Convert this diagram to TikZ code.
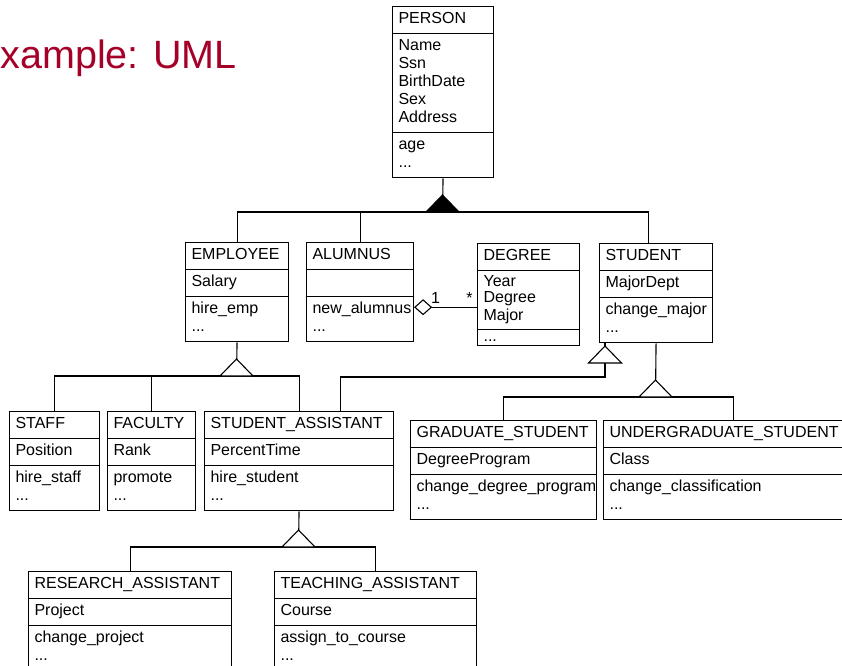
\documentclass[tikz,border=0pt]{standalone}
\usepackage{fontspec}
\setmainfont{Liberation Sans}
\usepackage{tikz}
\usetikzlibrary{arrows.meta}
\usetikzlibrary{shapes.multipart}
\setlength{\parindent}{0pt}
\definecolor{titlered}{RGB}{165,0,40}

\tikzset{
    umlclass/.style={draw, rectangle split, rectangle split parts=3, anchor=north west,
        inner xsep=6pt, inner ysep=4pt, text width=#1, align=left,
        font=\fontsize{16}{18}\selectfont},
    isaopen/.pic={\filldraw[fill=white] (-16.5,0) -- (0,-17) -- (16.5,0) -- cycle;},
    isafull/.pic={\filldraw[fill=black] (-16.5,0) -- (0,-17) -- (16.5,0) -- cycle;},
}

\begin{document}
\begin{tikzpicture}[x=1pt, y=-1pt, line width=1.1pt]
    \useasboundingbox (0,0) rectangle (842,665);
    \clip (0,0) rectangle (842,665);
    \node[anchor=base west, inner sep=0, text=titlered, font=\fontsize{39.5}{45}\selectfont] (title) at (0,68) {xample: UML};
    % classes
    \node[umlclass=89pt] (person) at (392,6) {\strut PERSON
        \nodepart{second}\strut Name\\\strut Ssn\\\strut BirthDate\\\strut Sex\\\strut Address
        \nodepart{third}\strut age\\\strut ...};
    \node[umlclass=91pt] (employee) at (185,242) {\strut EMPLOYEE
        \nodepart{second}\strut Salary \nodepart{third}\strut hire\_emp\\\strut ...};
    \node[umlclass=95pt] (alumnus) at (306,242) {\strut ALUMNUS
        \nodepart{second}\strut \nodepart{third}\strut new\_alumnus\\\strut ...};
    \node[umlclass=90pt] (degree) at (477,243) {\strut DEGREE
        \nodepart{second}\fontsize{16}{16}\selectfont\strut Year\\\strut Degree\\\strut Major
        \nodepart{third}\rule{0pt}{7pt}...};
    \node[umlclass=101pt] (student) at (599,243) {\strut STUDENT
        \nodepart{second}\strut MajorDept \nodepart{third}\strut change\_major\\\strut ...};
    \node[umlclass=78pt] (staff) at (9,411) {\strut STAFF
        \nodepart{second}\strut Position \nodepart{third}\strut hire\_staff\\\strut ...};
    \node[umlclass=76pt] (faculty) at (107,411) {\strut FACULTY
        \nodepart{second}\strut Rank \nodepart{third}\strut promote\\\strut ...};
    \node[umlclass=177pt] (sa) at (204,411) {\strut STUDENT\_ASSISTANT
        \nodepart{second}\strut PercentTime \nodepart{third}\strut hire\_student\\\strut ...};
    \node[umlclass=174pt] (grad) at (410,420) {\strut GRADUATE\_STUDENT
        \nodepart{second}\strut DegreeProgram \nodepart{third}\strut change\_degree\_program\\\strut ...};
    \node[umlclass=248pt] (undergrad) at (603,420) {\strut UNDERGRADUATE\_STUDENT
        \nodepart{second}\strut Class \nodepart{third}\strut change\_classification\\\strut ...};
    \node[umlclass=191pt] (ra) at (28,571) {\strut RESEARCH\_ASSISTANT
        \nodepart{second}\strut Project \nodepart{third}\strut change\_project\\\strut ...};
    \node[umlclass=190pt] (ta) at (274,571) {\strut TEACHING\_ASSISTANT
        \nodepart{second}\strut Course \nodepart{third}\strut assign\_to\_course\\\strut ...};
    % generalisations
    \coordinate (g1) at (442.5,212);
    \coordinate (g2) at (236.5,376);
    \coordinate (g3) at (605,363);
    \coordinate (g4) at (655.5,397);
    \coordinate (g5) at (298.5,547);
    \draw (person.south) -- (g1);
    \draw (employee.north) |- (g1) -| ([xshift=-7.5pt]student.north);
    \draw (alumnus.north) -- (alumnus.north |- g1);
    \draw (employee.south) -- (g2);
    \draw (staff.north) |- (g2) -| (sa.north);
    \draw (faculty.north) -- (faculty.north |- g2);
    \draw (g3 |- student.south) -- (g3);
    \draw (g3) -- ++(0,14) -| ([xshift=41.5pt]sa.north);
    \draw (student.south) -- (g4);
    \draw (grad.north) |- (g4) -| (undergrad.north);
    \draw (sa.south) -- (g5);
    \draw (ra.north) |- (g5) -| (ta.north);
    \pic at (g1) {isafull};
    \pic at (g2) {isaopen};
    \pic at (g3) {isaopen};
    \pic at (g4) {isaopen};
    \pic at (g5) {isaopen};
    % aggregation
    \draw[{Diamond[open,length=18pt,width=16pt]}-] ([yshift=-15pt]alumnus.east) -- ([yshift=-15pt]alumnus.east -| degree.west)
        node[pos=0.34, above, inner sep=3pt, font=\fontsize{16}{18}\selectfont] (one) {1}
        node[pos=0.88, above, inner sep=3pt, font=\fontsize{16}{18}\selectfont] (many) {*};
\end{tikzpicture}
\end{document}
